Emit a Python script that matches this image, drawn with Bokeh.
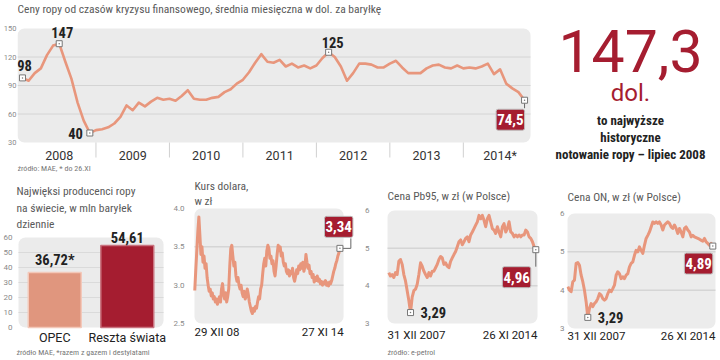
from bokeh.plotting import figure
from bokeh.models import Range1d, FixedTicker, Label, BoxAnnotation
from bokeh.layouts import row, column
from bokeh.embed import file_html
from bokeh.resources import INLINE
from bokeh.core.properties import value

# ---------------- data ----------------
oil_title = "Ceny ropy od czasów kryzysu finansowego, średnia miesięczna w dol. za baryłkę"
oil_source = "źródło: MAE, * do 26.XI"
oil_start_year = 2008
oil_prices = [
    98, 95, 103, 108, 122, 132, 134, 115, 97, 72, 53, 40,
    43, 44, 46, 50, 57, 69, 64, 72, 68, 73, 77, 75,
    76, 74, 79, 85, 76, 75, 75, 77, 78, 83, 86, 92,
    96, 104, 114, 123, 115, 114, 117, 110, 113, 109, 111, 108,
    111, 119, 125, 120, 110, 95, 103, 113, 113, 112, 109, 109,
    113, 116, 109, 103, 103, 103, 108, 111, 112, 109, 108, 111,
    108, 109, 108, 110, 113, 102, 107, 92, 87, 83, 74.5,
]
oil_year_labels = ["2008", "2009", "2010", "2011", "2012", "2013", "2014*"]
oil_y_ticks = [30, 60, 90, 120, 150]
oil_callout_idx = [0, 6, 11, 50]
oil_callout_txt = ["98", "147", "40", "125"]
oil_last_txt = "74,5"

big_number = "147,3"
big_unit = "dol."
big_caption = ["to najwyższe", "historyczne", "notowanie ropy – lipiec 2008"]

prod_title = ["Najwięksi producenci ropy", "na świecie, w mln baryłek", "dziennie"]
prod_source = "źródło MAE, *razem z gazem i destylatami"
producers = ["OPEC", "Reszta świata"]
production = [36.72, 54.61]
production_txt = ["36,72*", "54,61"]
prod_ticks = [0, 10, 20, 30, 40, 50, 60]

usd_title = ["Kurs dolara,", "w zł"]
usd_dates = ["29 XII 08", "27 XI 14"]
usd_ticks = [2.5, 3.0, 3.5, 4.0]
usd_tick_txt = ["2.5", "3.0", "3.5", "4.0"]
usd_last_txt = "3,34"
usd_rate = [
    2.93, 3.20, 3.45, 3.70, 3.89, 3.65, 3.40, 3.50, 3.30, 3.38, 3.22, 3.28,
    3.10, 3.00, 2.92, 2.95, 2.86, 2.90, 2.82, 2.85, 2.78, 2.82, 2.75, 2.80,
    2.85, 2.78, 2.95, 3.02, 2.88, 2.82, 2.90, 2.78, 2.85, 2.95, 3.25, 3.48,
    3.52, 3.38, 3.25, 3.30, 3.12, 3.05, 3.10, 3.00, 2.95, 3.00, 2.90, 2.85,
    2.92, 2.82, 2.86, 2.95, 2.88, 2.78, 2.72, 2.66, 2.63, 2.70, 2.66, 2.72,
    2.70, 2.78, 2.85, 2.82, 2.95, 3.00, 3.15, 3.28, 3.35, 3.25, 3.45, 3.52,
    3.48, 3.35, 3.38, 3.28, 3.32, 3.18, 3.12, 3.25, 3.40, 3.52, 3.45, 3.50,
    3.38, 3.42, 3.30, 3.25, 3.28, 3.18, 3.15, 3.20, 3.12, 3.18, 3.15, 3.22,
    3.10, 3.05, 3.12, 3.20, 3.15, 3.25, 3.20, 3.28, 3.22, 3.30, 3.18, 3.24,
    3.40, 3.30, 3.22, 3.26, 3.15, 3.18, 3.10, 3.14, 3.04, 3.10, 3.06, 3.12,
    3.05, 3.08, 3.02, 3.05, 3.00, 3.04, 3.02, 3.06, 3.00, 3.03, 2.99, 3.04,
    3.02, 3.06, 3.12, 3.18, 3.22, 3.28, 3.32, 3.38, 3.42, 3.48,
]

pb_title = ["Cena Pb95, w zł (w Polsce)"]
pb_source = "źródło: e-petrol"
pb_dates = ["31 XII 2007", "26 XI 2014"]
fuel_ticks = [3, 4, 5, 6]
pb_min_txt = "3,29"
pb_last_txt = "4,96"
pb95 = [
    4.35, 4.26, 4.30, 4.22, 4.35, 4.30, 4.65, 4.70, 4.57, 4.30, 4.13, 3.87,
    3.61, 3.29, 3.70, 3.87, 3.91, 4.04, 4.30, 4.61, 4.52, 4.39, 4.30, 4.22,
    4.35, 4.26, 4.39, 4.39, 4.48, 4.57, 4.70, 4.78, 4.74, 4.57, 4.61, 4.52,
    4.48, 4.65, 4.74, 4.83, 4.91, 5.04, 5.17, 5.22, 5.09, 5.17, 5.26, 5.30,
    5.17, 5.35, 5.43, 5.52, 5.61, 5.70, 5.87, 5.78, 5.87, 5.74, 5.57, 5.78,
    5.87, 5.70, 5.52, 5.48, 5.39, 5.57, 5.43, 5.30, 5.57, 5.65, 5.43, 5.52,
    5.70, 5.43, 5.39, 5.30, 5.35, 5.30, 5.35, 5.30, 5.35, 5.35, 5.48, 5.43,
    5.30, 5.26, 5.17, 5.04, 4.96,
]

on_title = ["Cena ON, w zł (w Polsce)"]
on_dates = ["31 XII 2007", "26 XI 2014"]
on_min_txt = "3,29"
on_last_txt = "4,89"
on_price = [
    4.09, 4.00, 3.96, 4.22, 4.26, 4.70, 4.72, 4.65, 4.39, 4.22, 4.00, 3.70,
    3.29, 3.52, 3.65, 3.57, 3.65, 3.70, 3.78, 3.91, 3.87, 3.78, 3.74, 3.78,
    3.91, 4.00, 3.96, 4.04, 4.13, 4.39, 4.48, 4.43, 4.30, 4.35, 4.30, 4.39,
    4.43, 4.61, 4.70, 4.74, 4.91, 5.04, 5.00, 5.13, 5.04, 4.96, 5.17, 5.35,
    5.43, 5.52, 5.65, 5.78, 5.74, 5.78, 5.74, 5.78, 5.70, 5.57, 5.70, 5.74,
    5.78, 5.74, 5.65, 5.61, 5.70, 5.61, 5.48, 5.61, 5.52, 5.39, 5.61, 5.65,
    5.57, 5.52, 5.39, 5.43, 5.39, 5.37, 5.35, 5.33, 5.30, 5.28, 5.35, 5.26,
    5.22, 5.17, 5.22, 5.15,
]

# ---------------- style ----------------
RED = "#a51d30"
SALMON = "#e8967c"
BOX = "#ebebeb"
DARK = "#222222"
GREY_TXT = "#5a5a5a"
SRC_TXT = "#777777"
TICK_TXT = "#8a8a8a"
F_COND = "Roboto Condensed, Liberation Sans Narrow, Roboto"
F_REG = "Roboto"
H1, H2 = 172, 188          # heights of the two rows
W1 = 540                   # width of the main chart


class Panel:
    """A figure whose frame fills the figure (except the y-axis strip) and whose
    rounded grey box sits at given pixel positions."""

    def __init__(self, w, h, axis_w, box, xa, xb, ya, yb, yticks, standoff,
                 tick_over=None, tick_size="8px"):
        self.kx = (xb[0] - xa[0]) / (xb[1] - xa[1])
        self.ky = (yb[0] - ya[0]) / (yb[1] - ya[1])
        self.xa, self.ya = xa, ya
        xr = Range1d(self.fx(axis_w), self.fx(w))
        yr = Range1d(self.fy(h), self.fy(0))
        p = figure(width=w, height=h, x_range=xr, y_range=yr, output_backend="svg",
                   toolbar_location=None, title=None, x_axis_location=None,
                   y_axis_location="left", min_border_left=axis_w,
                   min_border_right=0, min_border_top=0, min_border_bottom=0)
        p.outline_line_color = None
        p.background_fill_color = "white"
        p.border_fill_color = "white"
        p.grid.visible = False
        ax = p.yaxis[0]
        ax.ticker = FixedTicker(ticks=yticks)
        ax.axis_line_color = None
        ax.major_tick_line_color = None
        ax.minor_tick_line_color = None
        ax.major_tick_in = ax.major_tick_out = 0
        ax.minor_tick_in = ax.minor_tick_out = 0
        ax.major_label_standoff = standoff
        ax.major_label_text_font = F_REG
        ax.major_label_text_font_size = tick_size
        ax.major_label_text_color = TICK_TXT
        if tick_over:
            ax.major_label_overrides = tick_over
        self.p = p
        self.bl, self.br = self.fx(box[0]), self.fx(box[1])
        self.bt, self.bb = self.fy(box[2]), self.fy(box[3])

    def fx(self, px):
        return self.xa[0] + (px - self.xa[1]) * self.kx

    def fy(self, px):
        return self.ya[0] + (px - self.ya[1]) * self.ky

    def gray_box(self, color=BOX):
        self.p.add_layout(BoxAnnotation(left=self.bl, right=self.br, bottom=self.bb,
                                        top=self.bt, fill_color=color, fill_alpha=1,
                                        line_alpha=0, border_radius=7, level="image"))

    def hgrid(self, ticks, color):
        n = len(ticks)
        self.p.segment(x0=[self.bl] * n, x1=[self.br] * n, y0=ticks, y1=ticks,
                       line_color=color, line_width=1, level="underlay")


def text_label(p, x, y, text, dx=0, dy=0, align="left", baseline="middle",
               size="11px", color=GREY_TXT, font=F_COND, style="normal"):
    p.add_layout(Label(x=x, y=y, text=text, x_offset=dx, y_offset=dy,
                       text_align=align, text_baseline=baseline,
                       text_font_size=size, text_color=color, text_font=font,
                       text_font_style=style))


def badge(p, x, y, text, dx, dy, align, baseline):
    p.add_layout(Label(x=x, y=y, text=text, x_offset=dx, y_offset=dy,
                       text_align=align, text_baseline=baseline,
                       text_font_size="15px", text_color="white", text_font=F_COND,
                       text_font_style="bold", background_fill_color=RED,
                       border_line_color="#bdbdbd", border_line_width=1,
                       padding=(1, 5), border_radius=2))


def marker(p, xs, ys):
    p.scatter(xs, ys, marker="square_dot", size=6, fill_color="white",
              line_color="#777777", line_width=1)


# ---------------- main oil chart ----------------
oil_x = [oil_start_year + i / 12 for i in range(len(oil_prices))]
M = Panel(W1, H1, 15, (15, 530, 28, 142),
          (oil_x[0], 20), (oil_x[-1], 524),
          (oil_y_ticks[-1], 28), (oil_y_ticks[0], 142),
          oil_y_ticks, 1, tick_size="7.5px")
pm = M.p
M.gray_box()
M.hgrid(oil_y_ticks[1:-1], "#d4d4d4")
years = [oil_start_year + k for k in range(len(oil_year_labels))]
pm.segment(x0=years[1:], x1=years[1:], y0=[M.bb] * (len(years) - 1),
           y1=[M.bb - 15 * abs(M.ky)] * (len(years) - 1), line_color="#d0d0d0")
for yv, lab in zip(years, oil_year_labels):
    text_label(pm, yv + 0.5, M.bb, lab, dy=-13, align="center", size="12.5px",
               color="#333333", font=F_REG)

pm.line(oil_x, oil_prices, line_color=SALMON, line_width=2.6, line_join="round")
pm.segment(x0=[oil_x[-1]], y0=[oil_prices[-1]], x1=[oil_x[-1]],
           y1=[oil_prices[-1] - 8 * abs(M.ky)], line_color="#666666", line_width=1)
cx = [oil_x[i] for i in oil_callout_idx] + [oil_x[-1]]
cy = [oil_prices[i] for i in oil_callout_idx] + [oil_prices[-1]]
marker(pm, cx, cy)
offs = [(2, 12, "center"), (3, 11, "center"), (-7, 0, "right"), (4, 10, "center")]
for i, t, (dx, dy, al) in zip(oil_callout_idx, oil_callout_txt, offs):
    text_label(pm, oil_x[i], oil_prices[i], t, dx=dx, dy=dy, align=al,
               size="14.5px", color=DARK, style="bold")
badge(pm, oil_x[-1], oil_prices[-1], oil_last_txt, 0, -9, "right", "top")
text_label(pm, M.bl, M.bt, oil_title, dy=20, size="11.5px")
text_label(pm, M.bl, M.bb, oil_source, dy=-26, size="8px", color=SRC_TXT)

# ---------------- right text block ----------------
TW = 720 - W1
pt = figure(width=TW, height=H1, x_range=Range1d(0, TW), y_range=Range1d(H1, 0),
            output_backend="svg", toolbar_location=None, title=None,
            x_axis_location=None, y_axis_location=None, min_border=0)
pt.outline_line_color = None
pt.grid.visible = False
cxm = TW / 2
pt.text(x=[cxm], y=[50], text=[big_number], text_align="center",
        text_baseline="middle", text_font=value(F_REG), text_font_size="59px",
        text_color=RED)
pt.text(x=[cxm], y=[92.5], text=[big_unit], text_align="center",
        text_baseline="middle", text_font=value(F_REG), text_font_size="24px",
        text_color=RED)
pt.text(x=[cxm] * 3, y=[120, 137, 154], text=big_caption, text_align="center",
        text_baseline="middle", text_font=value(F_COND), text_font_size="13px",
        text_font_style="bold", text_color=DARK)

# ---------------- bar chart ----------------
bar_x = [i + 0.5 for i in range(len(producers))]
B = Panel(170, H2, 14, (17, 163, 65, 155), (0, 17), (len(producers), 163),
          (prod_ticks[-1], 65), (prod_ticks[0], 155), prod_ticks, 3)
pbar = B.p
B.gray_box()
B.hgrid(prod_ticks[1:-1], "#dadada")
pbar.vbar(x=bar_x, top=production, width=0.73, bottom=0,
          fill_color=["#e0967e", RED], line_color=["#f3c8b9", "#c9737f"], line_width=1.5)
for x, v, t, c in zip(bar_x, production, production_txt, producers):
    text_label(pbar, x, v, t, dy=3, align="center", baseline="bottom", size="14.5px",
               color=DARK, style="bold")
    text_label(pbar, x, 0, c, dy=-10, align="center", size="12.5px", color=DARK,
               font=F_REG)
for line, up in zip(prod_title, [47, 30, 14]):
    text_label(pbar, B.bl, B.bt, line, dx=-2, dy=up, size="11.5px")
text_label(pbar, B.bl, B.bb, prod_source, dx=-2, dy=-25, size="8px", color=SRC_TXT)


# ---------------- small line charts ----------------
def line_chart(w, axis_w, standoff, box, x_px, vals, ticks, over, title, title_up,
               dates, date_dy):
    n = len(vals)
    P = Panel(w, H2, axis_w, box, (0, x_px[0]), (n - 1, x_px[1]),
              (ticks[-1], box[2]), (ticks[0], box[3]), ticks, standoff, over)
    P.gray_box("#ececec")
    P.hgrid(ticks[1:-1], "#c9c9c9")
    P.p.line(list(range(n)), vals, line_color=SALMON, line_width=3, line_join="round")
    for line, up in zip(title, title_up):
        text_label(P.p, P.bl, P.bt, line, dy=up, size="11.5px")
    text_label(P.p, P.bl, P.bb, dates[0], dy=-date_dy, baseline="top",
               size="11.5px", color=DARK, font=F_REG)
    text_label(P.p, P.br, P.bb, dates[1], dy=-date_dy, baseline="top",
               align="right", size="11.5px", color=DARK, font=F_REG)
    return P


# USD / PLN
U = line_chart(190, 15, 2, (23, 173, 36, 151), (23.3, 169.3), usd_rate,
               usd_ticks, dict(zip(usd_ticks, usd_tick_txt)), usd_title, [23, 8],
               usd_dates, 1)
un = len(usd_rate) - 1
U.p.line([un, un + 11 * U.kx, un + 11 * U.kx],
         [usd_rate[-1], usd_rate[-1], usd_rate[-1] + 10 * abs(U.ky)],
         line_color="#666666", line_width=1)
marker(U.p, [un], [usd_rate[-1]])
badge(U.p, un, usd_rate[-1], usd_last_txt, 13, 11, "right", "bottom")

# Pb95
P95 = line_chart(180, 11, 2, (27, 177, 38, 151), (28.3, 175.3), pb95,
                 fuel_ticks, None, pb_title, [15], pb_dates, 4)
pn = len(pb95) - 1
pmin = pb95.index(min(pb95))
P95.p.segment(x0=[pn], y0=[pb95[-1]], x1=[pn], y1=[pb95[-1] - 17 * abs(P95.ky)],
              line_color="#666666", line_width=1)
marker(P95.p, [pmin, pn], [pb95[pmin], pb95[-1]])
text_label(P95.p, pmin, pb95[pmin], pb_min_txt, dx=10, size="14.5px", color=DARK,
           style="bold")
badge(P95.p, pn, pb95[-1], pb_last_txt, -5, -17, "right", "top")
text_label(P95.p, P95.bl, P95.bb, pb_source, dy=-29, size="8px", color=SRC_TXT)

# ON
PON = line_chart(180, 26, 2, (27, 175, 41, 156), (27.3, 172.3), on_price,
                 fuel_ticks, None, on_title, [17], on_dates, 0)
on_n = len(on_price) - 1
omin = on_price.index(min(on_price))
marker(PON.p, [omin, on_n], [on_price[omin], on_price[-1]])
text_label(PON.p, omin, on_price[omin], on_min_txt, dx=10, size="14.5px", color=DARK,
           style="bold")
badge(PON.p, on_n, on_price[-1], on_last_txt, 0, -7, "right", "top")

layout = column(row(pm, pt, spacing=0),
                row(pbar, U.p, P95.p, PON.p, spacing=0), spacing=0)
open("out.html", "w").write(file_html(layout, INLINE))
